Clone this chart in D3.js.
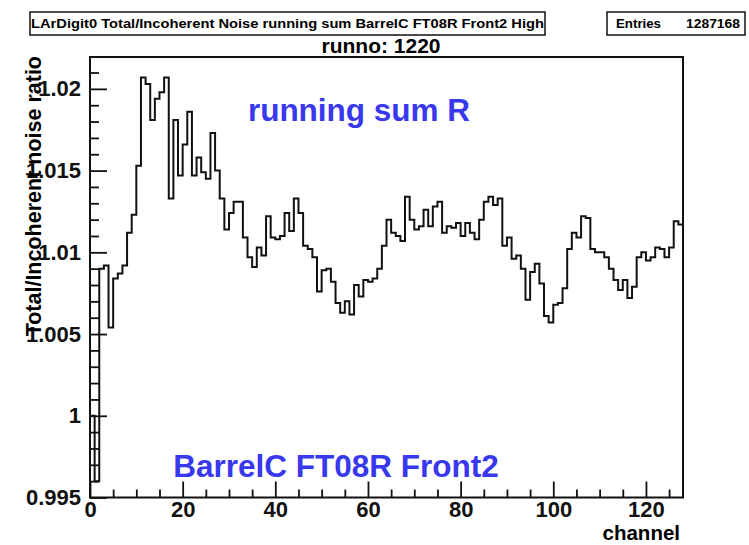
<!DOCTYPE html>
<html>
<head>
<meta charset="utf-8">
<script src="https://cdn.jsdelivr.net/npm/d3@7"></script>
<style>
  body { margin: 0; background: #fff; }
  text { font-family: "Liberation Sans", Arial, sans-serif; font-weight: bold; }
</style>
</head>
<body>
<div id="chart"></div>
<script>
// histogram contents, one value per channel (0..127)
var channels = d3.range(128);
var ratios = [
  1.0000, 0.9960, 1.0090, 1.0092, 1.0054, 1.0084, 1.0087, 1.0092, 1.0112, 1.0123,
  1.0153, 1.0207, 1.0203, 1.0181, 1.0194, 1.0198, 1.0207, 1.0133, 1.0181, 1.0147,
  1.0166, 1.0186, 1.0147, 1.0158, 1.0149, 1.0145, 1.0173, 1.0150, 1.0133, 1.0114,
  1.0124, 1.0131, 1.0131, 1.0109, 1.0097, 1.0091, 1.0103, 1.0098, 1.0122, 1.0109,
  1.0108, 1.0110, 1.0124, 1.0113, 1.0133, 1.0124, 1.0104, 1.0102, 1.0097, 1.0076,
  1.0089, 1.0090, 1.0082, 1.0069, 1.0063, 1.0070, 1.0062, 1.0080, 1.0073, 1.0083,
  1.0082, 1.0084, 1.0090, 1.0104, 1.0120, 1.0112, 1.0110, 1.0107, 1.0134, 1.0120,
  1.0114, 1.0116, 1.0126, 1.0116, 1.0128, 1.0131, 1.0112, 1.0116, 1.0115, 1.0118,
  1.0110, 1.0118, 1.0112, 1.0108, 1.0120, 1.0131, 1.0134, 1.0129, 1.0133, 1.0104,
  1.0109, 1.0096, 1.0098, 1.0090, 1.0071, 1.0088, 1.0093, 1.0081, 1.0061, 1.0057,
  1.0068, 1.0069, 1.0078, 1.0102, 1.0112, 1.0109, 1.0122, 1.0121, 1.0102, 1.0100,
  1.0100, 1.0097, 1.0090, 1.0083, 1.0077, 1.0083, 1.0072, 1.0079, 1.0097, 1.0100,
  1.0095, 1.0097, 1.0103, 1.0102, 1.0097, 1.0103, 1.0119, 1.0117
];

// axis ticks and labels
var xTicks = [0, 20, 40, 60, 80, 100, 120];
var xTickLabels = ["0", "20", "40", "60", "80", "100", "120"];
var yTicks = [0.995, 1.0, 1.005, 1.01, 1.015, 1.02];
var yTickLabels = ["0.995", "1", "1.005", "1.01", "1.015", "1.02"];

var svgWidth = 749;
var svgHeight = 545;

// frame of the plot (ROOT style pad)
var frame = { left: 90, right: 683, top: 57, bottom: 497.5 };

var svg = d3.select("#chart")
  .append("svg")
  .attr("width", svgWidth)
  .attr("height", svgHeight);

var x = d3.scaleLinear()
  .domain([0, 128])
  .range([frame.left, frame.right]);

var y = d3.scaleLinear()
  .domain([0.995, 1.02195])
  .range([frame.bottom, frame.top]);

// clip for the histogram
svg.append("clipPath")
  .attr("id", "frameClip")
  .append("rect")
  .attr("x", frame.left)
  .attr("y", frame.top)
  .attr("width", frame.right - frame.left)
  .attr("height", frame.bottom - frame.top);

// step outline, starting and ending on the baseline like ROOT does
var pts = [[0, y.domain()[0]]];
channels.forEach(function (c, i) {
  pts.push([c, ratios[i]]);
  pts.push([c + 1, ratios[i]]);
});
pts.push([128, y.domain()[0]]);

var line = d3.line()
  .x(d => x(d[0]))
  .y(d => y(d[1]));

svg.append("path")
  .attr("clip-path", "url(#frameClip)")
  .attr("d", line(pts))
  .attr("fill", "none")
  .attr("stroke", "#111")
  .attr("stroke-width", 2);

// x axis: ticks point inside the frame
var xMinor = svg.append("g")
  .attr("transform", `translate(0, ${frame.bottom})`)
  .call(d3.axisBottom(x)
    .tickValues(d3.range(0, 128, 5).filter(v => v % 20 != 0))
    .tickSize(-8)
    .tickFormat(""));
xMinor.select(".domain").remove();

var xAxis = svg.append("g")
  .attr("transform", `translate(0, ${frame.bottom})`)
  .call(d3.axisBottom(x)
    .tickValues(xTicks)
    .tickSize(-16)
    .tickPadding(4)
    .tickFormat((d, i) => xTickLabels[i]));
xAxis.select(".domain").remove();
xAxis.selectAll("text")
  .attr("font-size", 22)
  .attr("fill", "#111")
  .attr("font-family", "Liberation Sans, Arial, sans-serif");

// y axis
var yMinor = svg.append("g")
  .attr("transform", `translate(${frame.left}, 0)`)
  .call(d3.axisLeft(y)
    .tickValues(d3.range(0, 27).map(i => 0.995 + i * 0.001).filter((v, i) => i % 5 != 0))
    .tickSize(-9)
    .tickFormat(""));
yMinor.select(".domain").remove();

var yAxis = svg.append("g")
  .attr("transform", `translate(${frame.left}, 0)`)
  .call(d3.axisLeft(y)
    .tickValues(yTicks)
    .tickSize(-17)
    .tickPadding(9)
    .tickFormat((d, i) => yTickLabels[i]));
yAxis.select(".domain").remove();
yAxis.selectAll("text")
  .attr("font-size", 22)
  .attr("fill", "#111")
  .attr("font-family", "Liberation Sans, Arial, sans-serif");

svg.selectAll(".tick line")
  .attr("stroke", "#111")
  .attr("stroke-width", 1.8);

// frame
svg.append("rect")
  .attr("x", frame.left)
  .attr("y", frame.top)
  .attr("width", frame.right - frame.left)
  .attr("height", frame.bottom - frame.top)
  .attr("fill", "none")
  .attr("stroke", "#111")
  .attr("stroke-width", 2);

// title box
svg.append("rect")
  .attr("x", 30).attr("y", 12)
  .attr("width", 515).attr("height", 23)
  .attr("fill", "#fff")
  .attr("stroke", "#111")
  .attr("stroke-width", 1.5);
svg.append("text")
  .attr("x", 31).attr("y", 28)
  .attr("font-size", 13)
  .attr("textLength", 513)
  .attr("lengthAdjust", "spacingAndGlyphs")
  .text("LArDigit0 Total/Incoherent Noise running sum BarrelC FT08R Front2 High");

// stats box
svg.append("rect")
  .attr("x", 607).attr("y", 12)
  .attr("width", 138).attr("height", 23)
  .attr("fill", "#fff")
  .attr("stroke", "#111")
  .attr("stroke-width", 1.5);
svg.append("text")
  .attr("x", 616).attr("y", 28)
  .attr("font-size", 13)
  .attr("textLength", 45)
  .attr("lengthAdjust", "spacingAndGlyphs")
  .text("Entries");
svg.append("text")
  .attr("x", 686).attr("y", 28)
  .attr("font-size", 13)
  .attr("textLength", 54)
  .attr("lengthAdjust", "spacingAndGlyphs")
  .text("1287168");

// run number
svg.append("text")
  .attr("x", 381).attr("y", 53)
  .attr("font-size", 21)
  .attr("text-anchor", "middle")
  .text("runno: 1220");

// axis titles
svg.append("text")
  .attr("transform", "translate(41, 56) rotate(-90)")
  .attr("font-size", 21.5)
  .attr("text-anchor", "end")
  .text("Total/Incoherent noise ratio");

svg.append("text")
  .attr("x", 680).attr("y", 540)
  .attr("font-size", 20.5)
  .attr("text-anchor", "end")
  .text("channel");

// blue annotations
svg.append("text")
  .attr("x", 359).attr("y", 121)
  .attr("font-size", 31.5)
  .attr("fill", "#3838ee")
  .attr("text-anchor", "middle")
  .text("running sum R");

svg.append("text")
  .attr("x", 336).attr("y", 477)
  .attr("font-size", 31.5)
  .attr("fill", "#3838ee")
  .attr("text-anchor", "middle")
  .text("BarrelC FT08R Front2");
</script>
</body>
</html>
